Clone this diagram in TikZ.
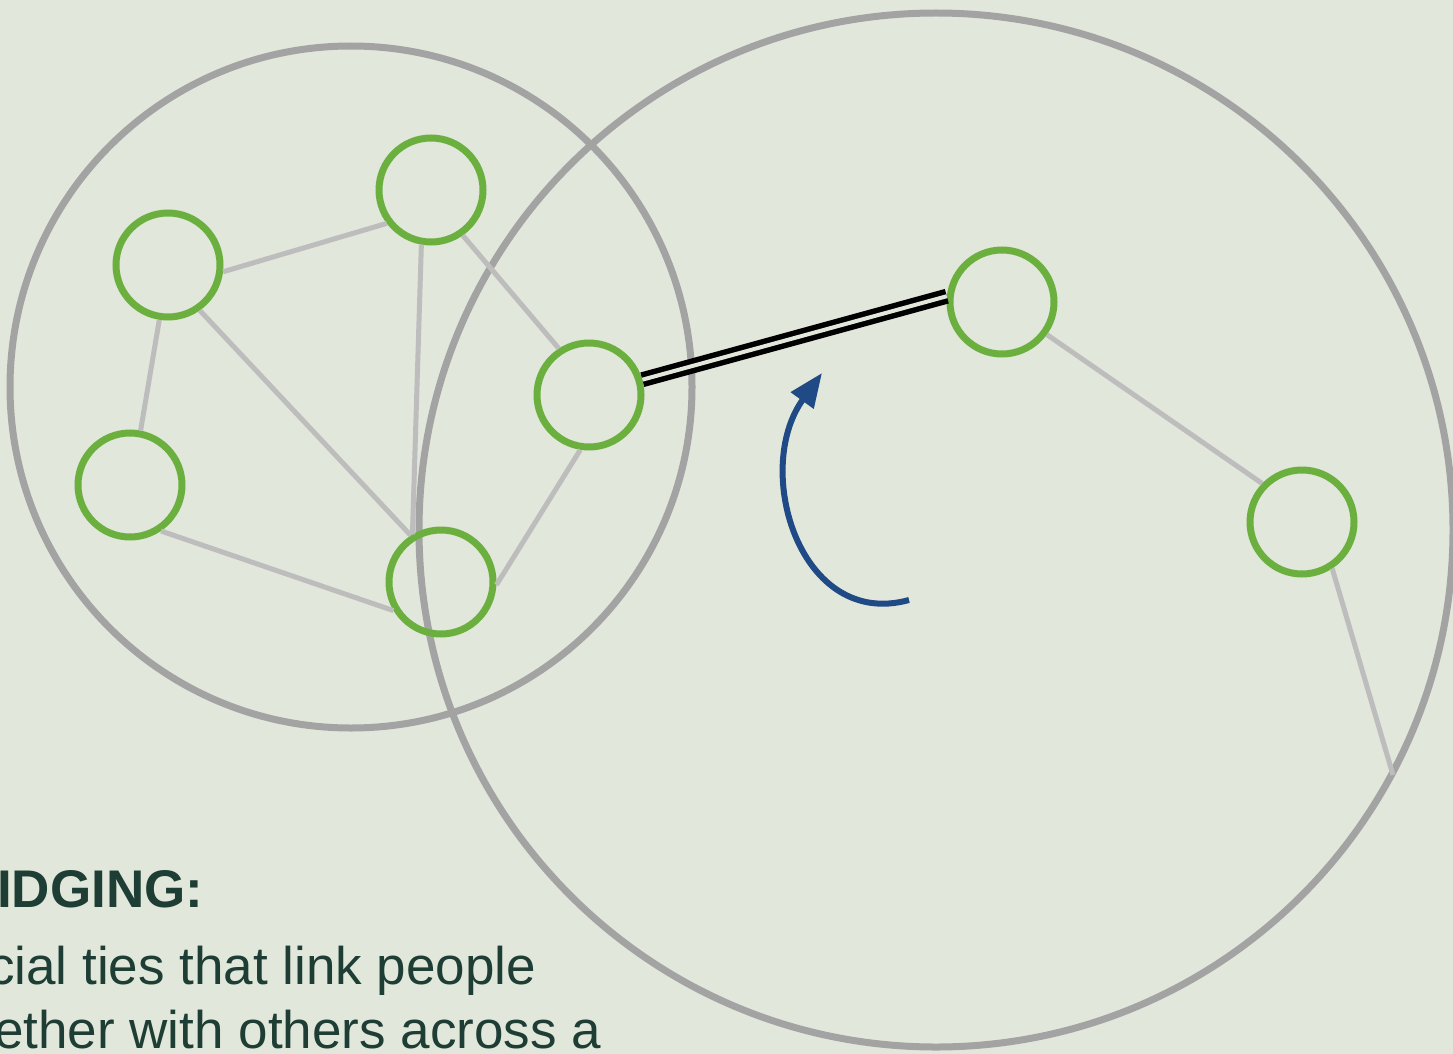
\documentclass[tikz,border=0pt]{standalone}
\usepackage{fontspec}
\setmainfont{Liberation Sans}
\usetikzlibrary{arrows.meta}
\definecolor{bg}{HTML}{E1E7DA}
\definecolor{ringgray}{HTML}{A3A3A3}
\definecolor{tiegray}{HTML}{BDBDBD}
\definecolor{persongreen}{HTML}{6BB03F}
\definecolor{arrowblue}{HTML}{1F4A86}
\definecolor{textgreen}{HTML}{1E3D34}
\tikzset{
  ring/.style={circle, draw=ringgray, line width=7pt, inner sep=0pt},
  person/.style={circle, draw=persongreen, line width=7pt, minimum size=104pt, inner sep=0pt},
  tie/.style={draw=tiegray, line width=5pt},
  bridge/.style={draw=black, line width=5.5pt, double=bg, double distance=4pt},
  label/.style={anchor=base west, text=textgreen, inner sep=0pt}
}
\begin{document}
\begin{tikzpicture}[x=1pt,y=-1pt]
\fill[bg] (0,0) rectangle (1453,1054);
\useasboundingbox (0,0) rectangle (1453,1054);
% group rings
\node[ring, minimum size=682pt] (L) at (351,387) {};
\node[ring, minimum size=1034pt] (R) at (936,530) {};
% people
\node[person] (A) at (431,190) {};
\node[person] (B) at (168,265) {};
\node[person] (C) at (130,485) {};
\node[person] (D) at (441,582) {};
\node[person] (E) at (589,395) {};
\node[person] (F) at (1002,302) {};
\node[person] (G) at (1302,522) {};
\coordinate (Gend) at (1393,775);
% ties
\draw[tie] (B.353) -- (A.217);
\draw[tie] (A.260) -- (D.121);
\draw[tie] (A.305) -- (E.123);
\draw[tie] (B.261) -- (C.79);
\draw[tie] (B.305) -- (D.123);
\draw[tie] (C.304) -- (D.211);
\draw[tie] (D.357) -- (E.261);
\draw[tie] (F.324) -- (G.136);
\draw[tie] (G.303) -- (Gend);
% bridge
\draw[bridge] (E.16) -- (F.174);
% arrow
\coordinate (arrS) at (909,600);
\coordinate (arrE) at (822,373);
\draw[arrowblue, line width=6pt, -{Triangle[length=34pt, width=27pt]}]
  (arrS) .. controls (800,630) and (752,470) .. (arrE);
% text
\node[label, font=\bfseries\fontsize{53}{60}\selectfont] (t1) at (-3,907) {IDGING:};
\node[label, font=\fontsize{53}{60}\selectfont] (t2) at (-12,984) {cial ties that link people};
\node[label, font=\fontsize{53}{60}\selectfont] (t3) at (-6,1048) {ether with others across a};
\end{tikzpicture}
\end{document}
